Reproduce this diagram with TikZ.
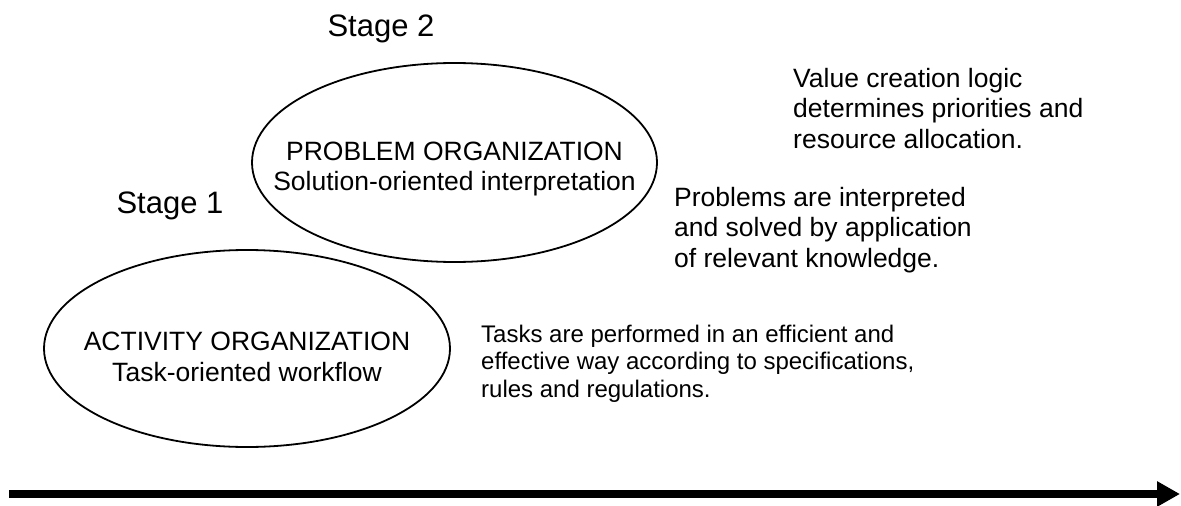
\documentclass[tikz,border=0pt]{standalone}
\usepackage{fontspec}
\setmainfont{Liberation Sans}
\usetikzlibrary{shapes.geometric,arrows.meta}
\newcommand{\ctrlines}[1]{\vtop{\halign{\hfil##\hfil\cr#1\crcr}}}
\newcommand{\leftlines}[1]{\vtop{\halign{##\hfil\cr#1\crcr}}}
\begin{document}
\begin{tikzpicture}[x=1pt,y=-1pt,
  oval/.style={draw,ellipse,line width=1.8pt,inner sep=0pt},
  stagelabel/.style={font=\fontsize{31}{36}\selectfont,inner sep=0pt,anchor=base},
  maintext/.style={font=\fontsize{26.5}{30.5}\selectfont,inner sep=0pt},
  smalltext/.style={font=\fontsize{24}{27.5}\selectfont,inner sep=0pt,anchor=base west},
]
\useasboundingbox (0,0) rectangle (1181,506);
% ellipses
\node[oval,minimum width=405pt,minimum height=199pt] (e2) at (454.5,162.5) {};
\node[oval,minimum width=406pt,minimum height=197pt] (e1) at (247,348.5) {};
% stage labels
\node[stagelabel] (s2) at (381,36) {Stage 2};
\node[stagelabel] (s1) at (170,213) {Stage 1};
% ellipse texts
\node[maintext,anchor=base] (t2) at (454.5,160) {\ctrlines{PROBLEM ORGANIZATION\cr Solution-oriented interpretation}};
\node[font=\fontsize{26.5}{31}\selectfont,inner sep=0pt,anchor=base] (t1) at (247,350) {\ctrlines{ACTIVITY ORGANIZATION\cr Task-oriented workflow}};
% descriptions
\node[maintext,anchor=base west] (v) at (793,87) {\leftlines{Value creation logic\cr determines priorities and\cr resource allocation.}};
\node[maintext,anchor=base west] (p) at (674,206) {\leftlines{Problems are interpreted\cr and solved by application\cr of relevant knowledge.}};
\node[smalltext] (k) at (481,342) {\leftlines{Tasks are performed in an efficient and\cr effective way according to specifications,\cr rules and regulations.}};
% arrow
\coordinate (a0) at (9,494);
\coordinate (a1) at (1180,494);
\draw[line width=8pt,-{Triangle[length=23pt,width=24pt]}] (a0) -- (a1);
\end{tikzpicture}
\end{document}
